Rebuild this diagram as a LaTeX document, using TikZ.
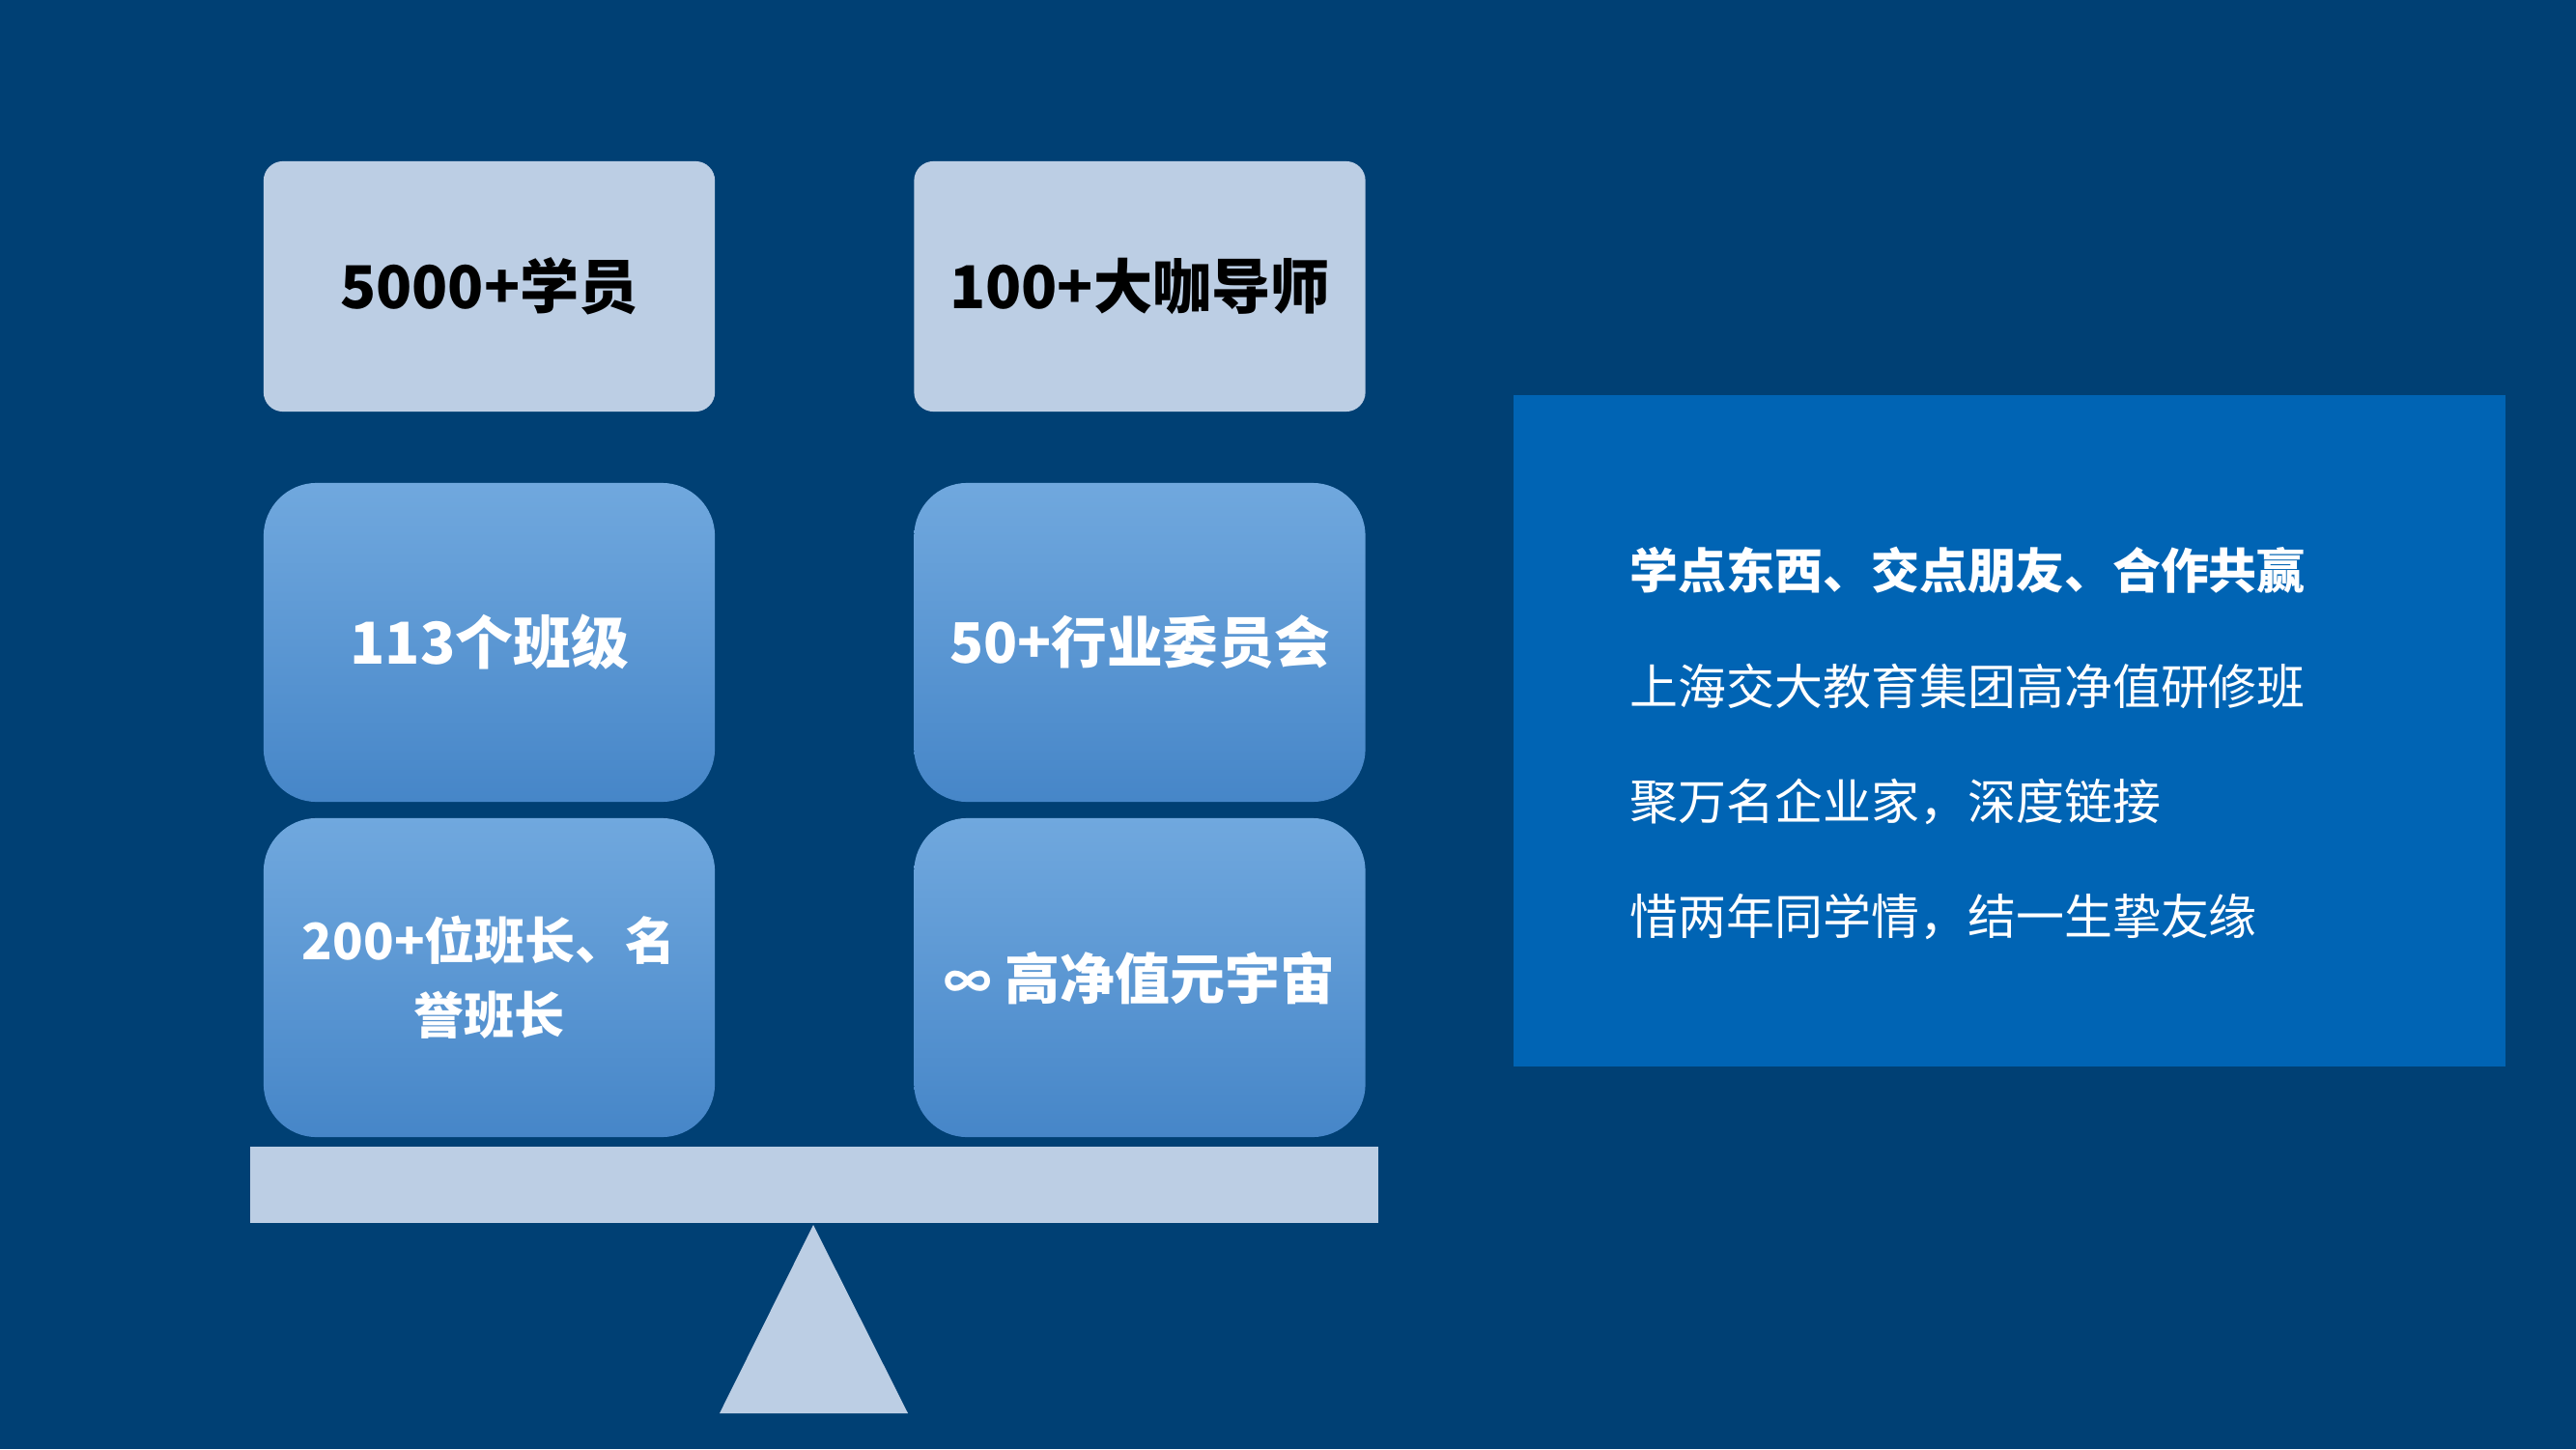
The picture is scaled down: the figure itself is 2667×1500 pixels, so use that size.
\documentclass[tikz,border=0pt]{standalone}
\usepackage{fontspec}
\usepackage{tikz}
\usetikzlibrary{positioning}
\setmainfont{Noto Sans CJK SC}
\definecolor{pagenavy}{HTML}{004074}
\definecolor{panelblue}{HTML}{0064B4}
\definecolor{palebox}{HTML}{BCCEE4}
\definecolor{gradtop}{HTML}{70A8DE}
\definecolor{gradbot}{HTML}{4686C8}

\begin{document}
\begin{tikzpicture}[x=0.01cm, y=-0.01cm,
  palecard/.style={fill=palebox, rounded corners=0.2cm,
                   minimum width=4.67cm, minimum height=2.59cm,
                   font=\fontsize{17.4pt}{20pt}\selectfont\bfseries, text=black},
  bluecard/.style={top color=gradtop, bottom color=gradbot, draw=none, rounded corners=0.55cm,
                   minimum width=4.67cm, minimum height=3.3cm, align=center,
                   font=\fontsize{17pt}{20pt}\selectfont\bfseries, text=white},
  panelline/.style={anchor=west, inner sep=0pt, text=white,
                    font=\fontsize{14.2pt}{17pt}\selectfont},
]
  % Page
  \fill[pagenavy] (0,0) rectangle (2667,1500);

  % Top row
  \node[palecard] (students) at (506.5, 296.5) {5000+学员};
  \node[palecard] (mentors) at (1180, 296.5) {100+大咖导师};

  % Middle row
  \node[bluecard] (classes) at (506.5, 665) {113个班级};
  \node[bluecard, font=\fontsize{16.4pt}{20pt}\selectfont\bfseries] (committees) at (1180, 665)
    {50+行业委员会};

  % Bottom row
  \node[bluecard, font=\fontsize{14.8pt}{21.9pt}\selectfont\bfseries] (monitors) at (506.5, 1012)
    {200+位班长、名\\誉班长};
  \node[bluecard, font=\fontsize{16.2pt}{20pt}\selectfont\bfseries] (universe) at (1180, 1012)
    {{\fontsize{14pt}{20pt}\selectfont ∞} 高净值元宇宙};

  % Balance beam and pivot
  \fill[palebox] (259,1187) rectangle (1427,1266);
  \fill[palebox] (842,1268) -- (940,1463) -- (745,1463) -- cycle;

  % Right panel
  \fill[panelblue] (1567,409) rectangle (2594,1104);
  \node[panelline, font=\fontsize{14.2pt}{17pt}\selectfont\bfseries] (motto) at (1687, 590)
    {学点东西、交点朋友、合作共赢};
  \node[panelline] (program) at (1687, 710) {上海交大教育集团高净值研修班};
  \node[panelline] (gather) at (1687, 830) {聚万名企业家，深度链接};
  \node[panelline] (bond) at (1687, 949) {惜两年同学情，结一生挚友缘};
\end{tikzpicture}
\end{document}
